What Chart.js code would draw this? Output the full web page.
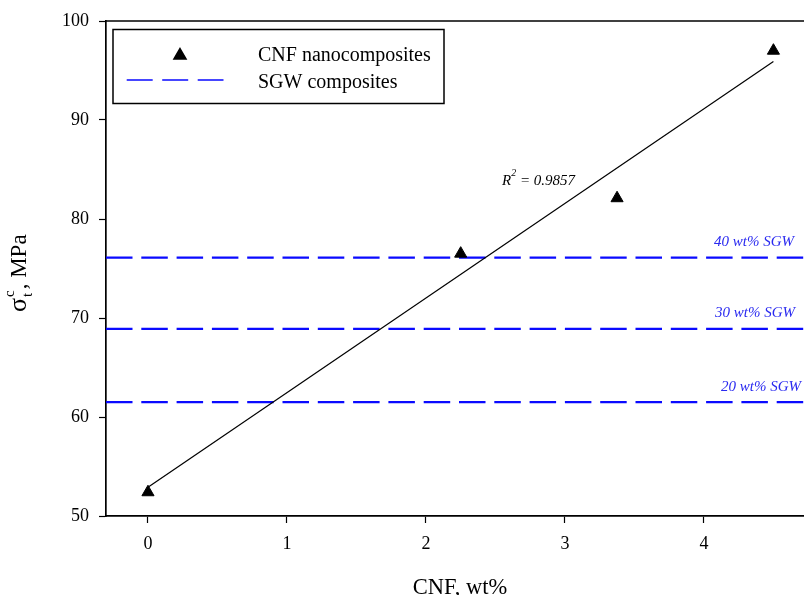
<!DOCTYPE html>
<html>
<head>
<meta charset="utf-8">
<script src="https://cdn.jsdelivr.net/npm/chart.js@4/dist/chart.umd.min.js"></script>
<style>
    html, body { margin: 0; padding: 0; background: #fff; }
    canvas { display: block; }
</style>
</head>
<body>
<canvas id="chart" width="804" height="595"></canvas>
<script>
    "use strict";

    // CNF nanocomposites (measured points)
    const cnfLoad = [0, 2.25, 3.375, 4.5];
    const cnfStrength = [52.4, 76.5, 82.1, 97.0];
    // linear fit, end points
    const fitX = [0, 4.5];
    const fitY = [52.9, 95.9];
    const rSquared = "0.9857";
    // SGW composites reference levels
    const sgwLabels = ["20 wt% SGW", "30 wt% SGW", "40 wt% SGW"];
    const sgwStrength = [61.5, 68.9, 76.1];
    // axes
    const xTicks = [0, 1, 2, 3, 4];
    const yTicks = [50, 60, 70, 80, 90, 100];
    const xRange = [-0.302, 4.72];
    const yRange = [50, 100];

    const SERIF = "'Liberation Serif', 'Times New Roman', serif";
    const BLUE = "#0a0aff";
    const LABEL_BLUE = "#2a2af0";

    const sgwSets = sgwStrength.map((v, i) => ({
        label: sgwLabels[i],
        data: [{ x: xRange[0], y: v }, { x: xRange[1], y: v }],
        showLine: true,
        borderColor: BLUE,
        borderWidth: 2.2,
        borderDash: [26.5, 8.8],
        pointRadius: 0,
        order: 3,
    }));

    const overlay = {
        id: "overlay",
        afterDraw(chart) {
            const { ctx, chartArea: a, scales } = chart;
            const ys = scales.y;
            ctx.save();

            // top frame line
            ctx.strokeStyle = "#000";
            ctx.lineWidth = 1.7;
            ctx.beginPath();
            ctx.moveTo(a.left, a.top);
            ctx.lineTo(a.right, a.top);
            ctx.stroke();

            // SGW level labels
            const rightEdge = [801, 795, 794];
            ctx.font = "italic 15px " + SERIF;
            ctx.fillStyle = LABEL_BLUE;
            ctx.textAlign = "right";
            ctx.textBaseline = "alphabetic";
            sgwStrength.forEach((v, i) => {
                ctx.fillText(sgwLabels[i], rightEdge[i], ys.getPixelForValue(v) - 11.5);
            });

            // R^2 label
            ctx.fillStyle = "#000";
            ctx.textAlign = "left";
            let rx = 502, ry = 185;
            ctx.fillText("R", rx, ry);
            rx += ctx.measureText("R").width;
            ctx.font = "italic 10px " + SERIF;
            ctx.fillText("2", rx, ry - 9);
            rx += ctx.measureText("2").width;
            ctx.font = "italic 15px " + SERIF;
            ctx.fillText(" = " + rSquared, rx, ry);

            // legend
            ctx.lineWidth = 1.5;
            ctx.strokeStyle = "#000";
            ctx.strokeRect(113, 29.5, 331, 74);
            Chart.helpers.drawPoint(ctx, { pointStyle: "triangle", radius: 7, rotation: 0, borderWidth: 1 }, 180, 55.5);
            ctx.beginPath();
            ctx.strokeStyle = BLUE;
            ctx.lineWidth = 1.3;
            ctx.setLineDash([26, 9.5]);
            ctx.moveTo(126.7, 80);
            ctx.lineTo(223.5, 80);
            ctx.stroke();
            ctx.setLineDash([]);
            ctx.font = "20px " + SERIF;
            ctx.fillStyle = "#000";
            ctx.fillText("CNF nanocomposites", 258, 60.5);
            ctx.fillText("SGW composites", 258, 88);

            // x axis title
            ctx.font = "22.5px " + SERIF;
            ctx.textAlign = "center";
            ctx.fillText("CNF, wt%", 460, 593.5);

            // y axis title: sigma_t^c, MPa
            ctx.translate(26, 312);
            ctx.rotate(-Math.PI / 2);
            ctx.textAlign = "left";
            ctx.font = "26px " + SERIF;
            ctx.fillText("σ", 0, 0);
            let tx = ctx.measureText("σ").width + 1;
            ctx.font = "15px " + SERIF;
            ctx.fillText("t", tx, 6);
            ctx.fillText("c", tx, -12);
            tx += Math.max(ctx.measureText("t").width, ctx.measureText("c").width) + 1;
            ctx.font = "23px " + SERIF;
            ctx.fillText(", MPa", tx, 0);

            ctx.restore();
        },
    };

    new Chart(document.getElementById("chart"), {
        type: "scatter",
        data: {
            datasets: [
                {
                    label: "CNF nanocomposites",
                    data: cnfLoad.map((x, i) => ({ x, y: cnfStrength[i] })),
                    pointStyle: "triangle",
                    pointRadius: 7,
                    pointBackgroundColor: "#000",
                    pointBorderColor: "#000",
                    pointBorderWidth: 1,
                    order: 1,
                },
                {
                    label: "fit",
                    data: fitX.map((x, i) => ({ x, y: fitY[i] })),
                    showLine: true,
                    borderColor: "#000",
                    borderWidth: 1.2,
                    pointRadius: 0,
                    order: 2,
                },
                ...sgwSets,
            ],
        },
        options: {
            responsive: false,
            animation: false,
            devicePixelRatio: 1,
            layout: { autoPadding: false, padding: { top: 21, left: 0, right: 0, bottom: 0 } },
            plugins: { legend: { display: false }, tooltip: { enabled: false } },
            scales: {
                x: {
                    type: "linear",
                    min: xRange[0],
                    max: xRange[1],
                    afterBuildTicks: (s) => { s.ticks = xTicks.map((v) => ({ value: v })); },
                    afterFit: (s) => { s.height = 79; },
                    border: { color: "#000", width: 1.7 },
                    grid: { drawOnChartArea: false, tickLength: 7, tickColor: "#000", tickWidth: 1.2 },
                    ticks: { color: "#000", font: { family: SERIF, size: 18 }, padding: 10 },
                },
                y: {
                    min: yRange[0],
                    max: yRange[1],
                    afterBuildTicks: (s) => { s.ticks = yTicks.map((v) => ({ value: v })); },
                    afterFit: (s) => { s.width = 106; },
                    border: { color: "#000", width: 1.7 },
                    grid: { drawOnChartArea: false, tickLength: 7, tickColor: "#000", tickWidth: 1.2 },
                    ticks: { color: "#000", font: { family: SERIF, size: 18 }, padding: 10 },
                },
            },
        },
        plugins: [overlay],
    });
</script>
</body>
</html>
